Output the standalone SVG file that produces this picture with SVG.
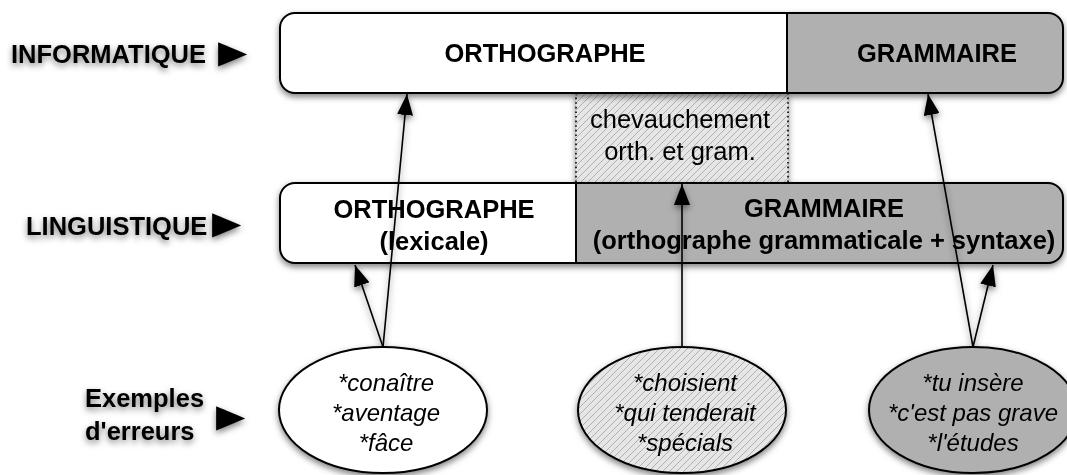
<svg xmlns="http://www.w3.org/2000/svg" width="1067" height="475" viewBox="0 0 1067 475">
<style>
text{font-family:"Liberation Sans","DejaVu Sans",Arial,sans-serif;fill:#000}
.b{font-weight:bold;font-size:25.5px}
.n{font-size:25.5px}
.i{font-style:italic;font-size:24px}
.c{text-anchor:middle}
.tri{font-family:"DejaVu Sans",sans-serif;font-size:38px}
.ol{fill:none;stroke:#000;stroke-width:2}
.ln{stroke:#000;stroke-width:1.6;fill:none;marker-end:url(#ah)}
</style>
<defs>
<filter id="sh" x="-10%" y="-20%" width="120%" height="150%">
<feDropShadow dx="0" dy="3" stdDeviation="3" flood-color="#000" flood-opacity="0.5"/>
</filter>
<pattern id="hatch" patternUnits="userSpaceOnUse" width="7" height="7">
<rect width="7" height="7" fill="#e6e6e6"/>
<path d="M-2,2 L2,-2 M0,7 L7,0 M5,9 L9,5" stroke="#aaa" stroke-width="0.9"/>
</pattern>
<marker id="ah" markerUnits="userSpaceOnUse" markerWidth="22" markerHeight="16" refX="21" refY="8" orient="auto">
<path d="M0,0 L21,8 L0,16 Z" fill="#000"/>
</marker>
</defs>

<g id="labels" filter="url(#sh)">
<text class="b" x="11" y="63">INFORMATIQUE</text>
<text class="tri" transform="translate(218,66.5) scale(1,1.28)">►</text>
<text class="b" x="26" y="235">LINGUISTIQUE</text>
<text class="tri" transform="translate(212,238) scale(1,1.28)">►</text>
<text class="b" x="85" y="407">Exemples</text>
<text class="b" x="85" y="440">d'erreurs</text>
<text class="tri" transform="translate(216,431) scale(1,1.28)">►</text>
</g>

<g id="overlap" filter="url(#sh)">
<rect x="576" y="93" width="212" height="90" fill="url(#hatch)"/>
<path d="M576,93 V183 M788,93 V183" stroke="#000" stroke-width="1.6" stroke-dasharray="1.6,3" fill="none"/>
<text class="n c" x="680" y="128">chevauchement</text>
<text class="n c" x="680" y="160">orth. et gram.</text>
</g>

<g id="informatique" filter="url(#sh)">
<path d="M295,13 H787 V93 H295 A15,15 0 0 1 280,78 V28 A15,15 0 0 1 295,13 Z" fill="#fff"/>
<path d="M787,13 H1048 A15,15 0 0 1 1063,28 V78 A15,15 0 0 1 1048,93 H787 Z" fill="#b0b0b0"/>
<rect class="ol" x="280" y="13" width="783" height="80" rx="15"/>
<line x1="787" y1="13" x2="787" y2="93" stroke="#000" stroke-width="2"/>
<text class="b c" x="545" y="62">ORTHOGRAPHE</text>
<text class="b c" x="937" y="62">GRAMMAIRE</text>
</g>

<g id="linguistique" filter="url(#sh)">
<path d="M295,183 H576 V263 H295 A15,15 0 0 1 280,248 V198 A15,15 0 0 1 295,183 Z" fill="#fff"/>
<path d="M576,183 H1048 A15,15 0 0 1 1063,198 V248 A15,15 0 0 1 1048,263 H576 Z" fill="#b0b0b0"/>
<rect class="ol" x="280" y="183" width="783" height="80" rx="15"/>
<line x1="576" y1="183" x2="576" y2="263" stroke="#000" stroke-width="2"/>
<text class="b c" x="434" y="218">ORTHOGRAPHE</text>
<text class="b c" x="434" y="250">(lexicale)</text>
<text class="b c" x="824" y="217">GRAMMAIRE</text>
<text class="b c" x="824" y="249">(orthographe grammaticale + syntaxe)</text>
</g>

<g id="connectors" filter="url(#sh)">
<line class="ln" x1="383" y1="347" x2="407" y2="94"/>
<line class="ln" x1="383" y1="347" x2="355" y2="265"/>
<line class="ln" x1="682" y1="347" x2="682" y2="184"/>
<line class="ln" x1="973" y1="347" x2="928" y2="94"/>
<line class="ln" x1="973" y1="347" x2="993" y2="265"/>
</g>

<g id="ex-orth" filter="url(#sh)">
<ellipse cx="383" cy="410" rx="104" ry="63" fill="#fff" stroke="#000" stroke-width="2"/>
<text class="i c" x="386" y="391">*conaître</text>
<text class="i c" x="386" y="421">*aventage</text>
<text class="i c" x="386" y="451">*fâce</text>
</g>

<g id="ex-overlap" filter="url(#sh)">
<ellipse cx="682" cy="410" rx="104" ry="63" fill="url(#hatch)" stroke="#000" stroke-width="2"/>
<text class="i c" x="685" y="391">*choisient</text>
<text class="i c" x="685" y="421">*qui tenderait</text>
<text class="i c" x="685" y="451">*spécials</text>
</g>

<g id="ex-gram" filter="url(#sh)">
<ellipse cx="973" cy="410" rx="104" ry="63" fill="#b0b0b0" stroke="#000" stroke-width="2"/>
<text class="i c" x="973" y="391">*tu insère</text>
<text class="i c" x="973" y="421">*c'est pas grave</text>
<text class="i c" x="973" y="451">*l'études</text>
</g>
</svg>
